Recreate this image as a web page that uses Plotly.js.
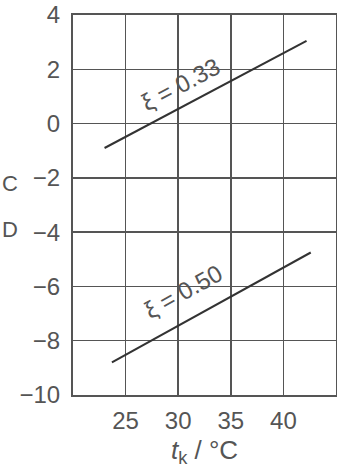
<!DOCTYPE html>
<html>
<head>
<meta charset="utf-8">
<script src="https://cdn.plot.ly/plotly-3.0.1.min.js"></script>
<style>
  html, body { margin: 0; padding: 0; background: #fff; }
  #chart { width: 337px; height: 472px; }
</style>
</head>
<body>
<div id="chart"></div>
<script>
// Condensing temperature t_k (°C) vs. value, two straight lines for ξ
const xi033T = [23.0, 42.2];
const xi033V = [-0.9, 3.05];
const xi050T = [23.7, 42.6];
const xi050V = [-8.8, -4.75];

const xTicks = [25, 30, 35, 40];
const xTickText = ['25', '30', '35', '40'];
const yTicks = [4, 2, 0, -2, -4, -6, -8, -10];
const yTickText = ['4', '2', '0', '\u22122', '\u22124', '\u22126', '\u22128', '\u221210'];

const lineLabels = ['\u03be = 0.33', '\u03be = 0.50'];
const labelT = [30.2, 30.5];
const labelV = [1.45, -6.2];

const ink = '#333';
const textInk = '#555';
const family = 'Liberation Sans, Arial, sans-serif';
const font = { family: family, size: 24, color: textInk };

const traces = [
  { x: xi033T, y: xi033V, mode: 'lines', line: { color: ink, width: 2 }, hoverinfo: 'skip' },
  { x: xi050T, y: xi050V, mode: 'lines', line: { color: ink, width: 2 }, hoverinfo: 'skip' }
];

const layout = {
  width: 337, height: 472,
  margin: { l: 73, r: 1, t: 15, b: 77 },
  paper_bgcolor: '#fff', plot_bgcolor: '#fff',
  showlegend: false,
  font: font,
  xaxis: {
    range: [20, 45],
    tickvals: xTicks, ticktext: xTickText,
    showgrid: true, gridcolor: '#555', gridwidth: 1.5,
    showline: true, linecolor: '#555', linewidth: 2, mirror: true,
    ticks: '', ticklabelstandoff: 3,
    zeroline: false,
    tickfont: font,
    title: { text: '<i>t</i><sub>k</sub> / °C', font: { family: family, size: 26, color: textInk }, standoff: 8 }
  },
  yaxis: {
    range: [-10, 4],
    tickvals: yTicks, ticktext: yTickText,
    showgrid: true, gridcolor: '#555', gridwidth: 1.5,
    showline: true, linecolor: '#555', linewidth: 2, mirror: true,
    ticks: '', ticklabelstandoff: 6,
    zeroline: false,
    tickfont: font
  },
  annotations: [
    { x: labelT[0], y: labelV[0], text: lineLabels[0], showarrow: false, textangle: -28,
      font: { family: family, size: 24, color: textInk } },
    { x: labelT[1], y: labelV[1], text: lineLabels[1], showarrow: false, textangle: -29,
      font: { family: family, size: 24, color: textInk } },
    { xref: 'paper', yref: 'y', x: -0.2, y: -2.2, xanchor: 'right', text: 'C', showarrow: false,
      font: { family: family, size: 22, color: textInk } },
    { xref: 'paper', yref: 'y', x: -0.2, y: -3.9, xanchor: 'right', text: 'D', showarrow: false,
      font: { family: family, size: 22, color: textInk } }
  ]
};

Plotly.newPlot('chart', traces, layout, { staticPlot: true, displayModeBar: false });
</script>
</body>
</html>
